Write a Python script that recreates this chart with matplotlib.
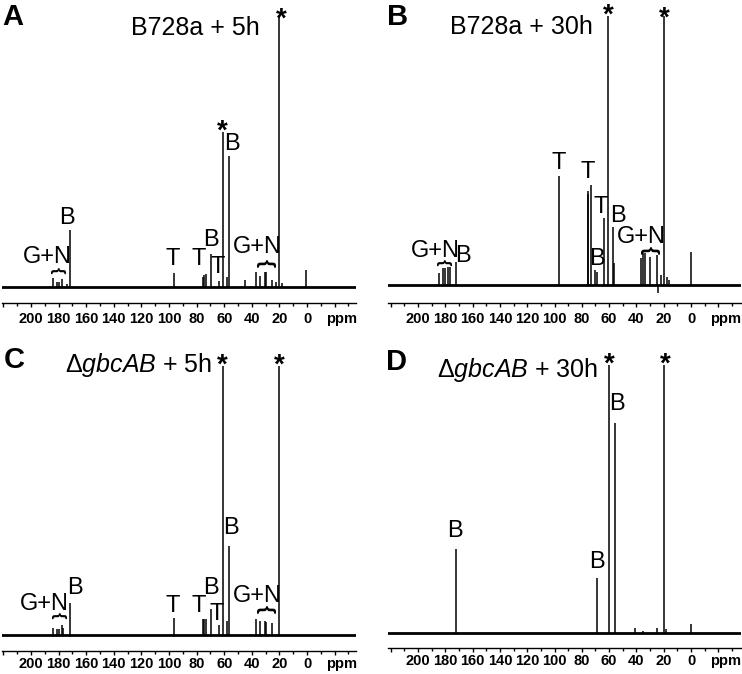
import matplotlib
matplotlib.use("Agg")
import matplotlib.pyplot as plt
from matplotlib.ticker import FixedLocator, FuncFormatter

plt.rcParams['font.family'] = ['Liberation Sans', 'DejaVu Sans']
plt.rcParams['mathtext.fontset'] = 'custom'
plt.rcParams['mathtext.rm'] = 'Liberation Sans'
plt.rcParams['mathtext.it'] = 'Liberation Sans:italic'

# peak positions (ppm) and heights (tallest solvent peak = 100)
A_ppm = [184, 181, 179.5, 177.5, 174, 172, 96.5, 75.5, 74.5, 73.5, 69.5, 63.5,
         61, 58, 56.5, 45, 37, 34, 30.4, 29.5, 25.6, 22.5, 20.3, 18, 0.7]
A_int = [3.3, 1.9, 1.9, 3.0, 1.1, 21, 5.2, 3.7, 4.4, 4.8, 12.2, 2.2,
         57, 3.7, 48, 2.6, 5.6, 4.0, 5.6, 5.6, 2.6, 1.9, 100, 1.5, 6.3]

B_ppm = [184.3, 181.4, 180, 178, 176.8, 171.9, 96.5, 75.8, 75.2, 73.5, 70, 69,
         64, 60.8, 56.9, 56.3, 37, 35, 34, 29.8, 24.7, 24.4, 22, 20, 17.8, 16.3, 0]
B_int = [4.4, 6.3, 6.3, 6.7, 6.7, 8.5, 40.7, 34, 35, 37, 5.5, 5,
         25, 100, 21.5, 8, 10, 12, 12, 10.4, 11, -3, 3.7, 100, 3, 1.9, 12.2]

C_ppm = [184, 181, 179.5, 177.5, 176.5, 172, 96.5, 75.5, 74.5, 73.5, 69.5, 63.5,
         61, 58, 56.5, 37, 34, 30.4, 29.5, 25.6, 20.3]
C_int = [2.6, 2.2, 2.2, 3.7, 2.6, 12, 6.3, 5.9, 5.9, 5.9, 9.6, 3.7,
         100, 5.2, 33, 5.9, 5.2, 5.2, 4.8, 4.4, 100]

D_ppm = [172, 69, 60, 55.9, 41, 35, 25, 19.5, 18, 0]
D_int = [31.5, 20.7, 100, 78.5, 1.9, 0.7, 1.9, 100, 1.5, 3.3]

titles = ['B728a + 5h', 'B728a + 30h',
          r'Δ$\mathit{gbcAB}$ + 5h', r'Δ$\mathit{gbcAB}$ + 30h']
letters = ['A', 'B', 'C', 'D']
tick_vals = list(range(220, -40, -20))

# annotations: (text, ppm, height); '*' is placed by its top, others by centre
A_lab = [('*', 18.8, 103), ('*', 61.6, 62), ('B', 54.3, 52.6), ('B', 174, 25.4),
         ('G+N', 188.4, 11), ('{', 181, 6.3), ('T', 97.1, 10.3), ('T', 78.3, 10.3),
         ('B', 69.6, 17.3), ('T', 64.5, 7.4), ('G+N', 36.2, 14.7), ('{', 30.4, 8.8)]
B_lab = [('*', 60.8, 104.8), ('*', 19.8, 104), ('T', 96.7, 45.4), ('T', 75.5, 42),
         ('T', 65.9, 29), ('B', 53.5, 25.6), ('G+N', 36.6, 17.8), ('{', 30.8, 13),
         ('B', 68.9, 9.7), ('G+N', 187.5, 12.6), ('B', 167, 10.8), ('{', 181.7, 8.5)]
C_lab = [('*', 61.6, 105), ('*', 20.3, 105), ('B', 55, 39.8), ('B', 168, 17.5),
         ('G+N', 190, 11.5), ('{', 180, 7.4), ('T', 97.1, 10.8), ('T', 78.3, 10.8),
         ('B', 69.6, 17.5), ('T', 65.2, 7.8), ('G+N', 36.2, 14.5), ('{', 30.4, 9.7)]
D_lab = [('*', 60, 104.9), ('*', 19, 104.9), ('B', 54.2, 85.4), ('B', 172.9, 38),
         ('B', 68.9, 26.5)]

W, H = 742, 674
fig = plt.figure(figsize=(W / 100, H / 100), dpi=100)

# left px, right px, axis line px, baseline px, top-of-100 px, xlim, tick pad
geom = [(2, 356, 303, 287, 15, (221, -35.5), 3),
        (388, 741, 303, 285, 16, (222, -36.6), 3),
        (2, 356, 651, 635, 366, (221, -35.5), 1),
        (388, 741, 648, 633, 365, (222, -36.6), 1)]
letter_pos = [(13, 17), (398, 17), (14, 360), (396, 362)]
title_pos = [(195, 28), (521, 27), (139, 365), (518, 370)]

spectra = [(A_ppm, A_int, A_lab), (B_ppm, B_int, B_lab),
           (C_ppm, C_int, C_lab), (D_ppm, D_int, D_lab)]

for i, (ppm, inten, labs) in enumerate(spectra):
    l, r, ay, by, ty, xl, pad = geom[i]
    k = (by - ty) / 100.0
    top = ay - 300
    ax = fig.add_axes([l / W, 1 - ay / H, (r - l) / W, (ay - top) / H])
    ax.set_xlim(*xl)
    ax.set_ylim(-(ay - by) / k, (by - top) / k)
    ax.axhline(0, color='k', lw=2.0)
    ax.vlines(ppm, 0, inten, color='k', lw=1.1)
    for s in ['left', 'right', 'top']:
        ax.spines[s].set_visible(False)
    ax.spines['bottom'].set_linewidth(1.0)
    ax.set_yticks([])
    ax.xaxis.set_major_locator(FixedLocator(tick_vals))
    ax.xaxis.set_minor_locator(FixedLocator(list(range(220, -40, -10))))
    ax.xaxis.set_major_formatter(FuncFormatter(
        lambda v, p: '%d' % v if 0 <= v <= 200 else ''))
    ax.tick_params(axis='x', which='major', direction='out', length=3.2, width=1, pad=pad)
    ax.tick_params(axis='x', which='minor', direction='out', length=2.0, width=1)
    for t in ax.get_xticklabels():
        t.set_fontweight('bold')
        t.set_fontsize(10.5)
    ax.annotate('ppm', xy=(-25, 0), xycoords=('data', 'axes fraction'),
                xytext=(0, -(3.2 + pad)), textcoords='offset points',
                ha='center', va='top', fontsize=10.5, fontweight='bold')
    for txt, x, y in labs:
        if txt == '*':
            ax.text(x, y, '*', ha='center', va='top', fontsize=20,
                    fontweight='bold', clip_on=False)
        elif txt == '{':
            ax.text(x, y, '{', ha='center', va='center',
                    fontsize=12 if x > 150 else 15, fontweight='bold',
                    rotation=-90, clip_on=False)
        else:
            ax.text(x, y, txt, ha='center', va='center', fontsize=17, clip_on=False)
    fig.text(letter_pos[i][0] / W, 1 - letter_pos[i][1] / H, letters[i],
             ha='center', va='center', fontsize=21, fontweight='bold')
    fig.text(title_pos[i][0] / W, 1 - title_pos[i][1] / H, titles[i],
             ha='center', va='center', fontsize=18)

fig.savefig('out.png', dpi=100)
